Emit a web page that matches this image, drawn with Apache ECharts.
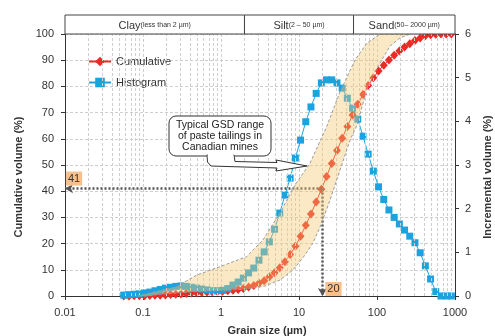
<!DOCTYPE html>
<html><head><meta charset="utf-8">
<script src="https://cdn.jsdelivr.net/npm/echarts@6/dist/echarts.min.js"></script>
<style>html,body{margin:0;padding:0;background:#fff}#c{width:495px;height:336px}</style>
</head><body><div id="c"></div>
<script>
// Grain size bins (µm)
const sizes = [0.0566,0.0661,0.0770,0.0898,0.1047,0.1221,0.1423,0.1660,0.1935,0.2256,0.2630,0.3067,0.3576,0.4169,0.4860,0.5667,0.6607,0.7703,0.8981,1.047,1.221,1.423,1.660,1.935,2.256,2.630,3.067,3.576,4.169,4.860,5.667,6.607,7.703,8.981,10.47,12.21,14.23,16.60,19.35,22.56,26.30,30.67,35.76,41.69,48.60,56.67,66.07,77.03,89.81,104.7,122.1,142.3,166.0,193.5,225.6,263.0,306.7,357.6,416.9,486.0,566.7,660.7,770.3,898.1];
// Cumulative volume (%)
const cumulative = [0,0.02,0.05,0.08,0.12,0.17,0.24,0.32,0.42,0.53,0.66,0.8,0.95,1.1,1.24,1.37,1.49,1.6,1.71,1.83,1.98,2.2,2.5,2.9,3.4,4.05,4.85,5.85,7.3,8.9,10.8,13.1,15.8,19.0,22.8,27.0,31.3,35.9,40.7,45.6,50.6,55.5,60.2,64.7,69.1,73.2,76.9,80.3,83.3,85.9,88.1,90.1,91.9,93.5,95.0,96.3,97.5,98.5,99.3,99.7,99.9,100,100,100];
// Incremental volume (%)
const histogram = [0.02,0.03,0.04,0.05,0.07,0.09,0.12,0.15,0.18,0.2,0.22,0.23,0.22,0.2,0.18,0.16,0.14,0.12,0.12,0.13,0.17,0.25,0.32,0.41,0.53,0.64,0.82,1.01,1.24,1.53,1.90,2.31,2.70,3.16,3.57,3.99,4.33,4.64,4.88,4.95,4.95,4.88,4.76,4.53,4.30,4.05,3.66,3.25,2.86,2.50,2.21,1.97,1.80,1.65,1.51,1.37,1.22,0.99,0.69,0.39,0.10,0,0,0];
// Typical GSD range band: fine boundary and coarse boundary
const bandFineX = [0.085,0.27,0.49,0.97,2.13,3.45,5.7,8.9,13.8,22.6,33.6,52.3,73.8,109];
const bandFineY = [0,3.6,8.0,11.2,15.0,21.4,31.7,42.4,50.6,64.6,78.0,90.1,96.4,100];
const bandCoarseX = [0.11,0.2,0.5,1.0,2.03,3.66,5.70,8.37,11.9,15.1,19.1,25.0,33.6,45.1,55.4,73.8,94.2,119,147,197,265];
const bandCoarseY = [0,0.9,1.7,2.1,2.6,3.8,6.1,9.9,15.6,20.2,27.1,36.6,48.1,59.5,65.3,78.6,85.5,90.8,95.4,98.5,100];
// Annotation values
const markSize = 20, markCum = 41;
// Axis ticks
const xTicks = ['0.01','0.1','1','10','100','1000'];
const classes = [
  {name:'Clay', note:'(less than 2 µm)', from:0.01, to:2},
  {name:'Silt', note:'(2 – 50 µm)', from:2, to:50},
  {name:'Sand', note:'(50– 2000 µm)', from:50, to:1000}
];
const calloutLines = ['Typical GSD range','of paste tailings in','Canadian mines'];

const FONT = 'Liberation Sans, Arial, sans-serif';
const RED = '#ec2a26', BLUE = '#1ba3df';
const minorGrid = [];
for (let d = 0.01; d < 1000; d *= 10) for (let m = 2; m <= 9; m++) minorGrid.push(+(d*m).toPrecision(3));

const bandPoly = bandFineX.map((x,i)=>[x,bandFineY[i]])
  .concat(bandCoarseX.map((x,i)=>[x,bandCoarseY[i]]).reverse());

const chart = echarts.init(document.getElementById('c'), null, {renderer:'canvas'});
const option = {
  animation:false,
  textStyle:{fontFamily:FONT},
  grid:{left:65,right:40,top:34,bottom:40,outerBoundsMode:'none',containLabel:false},
  legend:{
    orient:'vertical', left:83, top:51, itemWidth:22, itemHeight:12, itemGap:10,
    textStyle:{fontSize:11,color:'#333',fontFamily:FONT},
    data:['Cumulative','Histogram']
  },
  xAxis:{
    type:'log', logBase:10, min:0.01, max:1000,
    name:'Grain size (µm)', nameLocation:'middle', nameGap:29,
    nameTextStyle:{fontSize:11,fontWeight:'bold',color:'#333',fontFamily:FONT,padding:[0,0,0,14]},
    axisLine:{show:true,lineStyle:{color:'#333',width:1}},
    axisTick:{show:true,length:4,lineStyle:{color:'#333'}},
    axisLabel:{fontSize:11,color:'#333',margin:11,formatter:v=>{const s=xTicks.find(t=>Math.abs(+t-v)/v<1e-6);return s||'';}},
    splitLine:{show:true,lineStyle:{color:'#cfcfcf',type:[3,2]}}
  },
  yAxis:[
    {type:'value',min:0,max:100,interval:10,position:'left',
     name:'Cumulative volume (%)',nameLocation:'middle',nameGap:37,
     nameTextStyle:{fontSize:11,fontWeight:'bold',color:'#333',fontFamily:FONT,padding:[0,24,0,0]},
     axisLine:{show:true,lineStyle:{color:'#333'}},
     axisTick:{show:true,length:4,lineStyle:{color:'#333'}},
     axisLabel:{fontSize:11,color:'#333',margin:11},
     splitLine:{show:true,lineStyle:{color:'#cfcfcf',type:[3,2]}}},
    {type:'value',min:0,max:6,interval:1,position:'right',
     name:'Incremental volume (%)',nameLocation:'middle',nameGap:27,
     nameTextStyle:{fontSize:11,fontWeight:'bold',color:'#333',fontFamily:FONT,padding:[0,24,0,0]},
     axisLine:{show:true,lineStyle:{color:'#333'}},
     axisTick:{show:true,length:4,lineStyle:{color:'#333'}},
     axisLabel:{fontSize:11,color:'#333',margin:10},
     splitLine:{show:false}}
  ],
  series:[
    {type:'line',name:'grid',data:[],z:0,silent:true,
     markLine:{silent:true,symbol:'none',label:{show:false},
       lineStyle:{color:'#cfcfcf',type:[3,2],width:1},
       data:minorGrid.map(v=>({xAxis:v}))}},
    {type:'line',name:'Cumulative',yAxisIndex:0,z:3,
     data:sizes.map((s,i)=>[s,cumulative[i]]),
     symbol:'diamond',symbolSize:[8,9],showSymbol:true,
     lineStyle:{color:RED,width:1},itemStyle:{color:RED}},
    {type:'line',name:'Histogram',yAxisIndex:1,z:3,
     data:sizes.map((s,i)=>[s,histogram[i]]),
     symbol:'rect',symbolSize:7,showSymbol:true,
     lineStyle:{color:BLUE,width:1},itemStyle:{color:BLUE}},
    {type:'custom',name:'band',z:5,silent:true,data:[[1,50]],
     renderItem:(params,api)=>({
       type:'polygon',
       shape:{points:bandPoly.map(p=>api.coord(p))},
       style:{fill:'rgba(245,200,110,0.4)',stroke:'#9a9a9a',lineWidth:1,lineDash:[3,2]}
     })},
    {type:'line',name:'marks',data:[],z:6,silent:true,
     markLine:{silent:true,symbol:['none','arrow'],symbolSize:[7,8],
       label:{show:false},
       lineStyle:{color:'#555',type:[2,2],width:2.5},
       data:[
         [{coord:[markSize,markCum]},{coord:[0.01,markCum]}],
         [{coord:[markSize,markCum]},{coord:[markSize,0]}]
       ]},
     markPoint:{silent:true,symbol:'rect',symbolSize:0,
       data:[
         {coord:[0.01,markCum],label:{show:true,formatter:String(markCum),position:'inside',offset:[9,-10],
           fontSize:11,color:'#333',backgroundColor:'#f8c08c',padding:[2,2,1,2]}},
         {coord:[markSize,0],label:{show:true,formatter:String(markSize),position:'inside',offset:[11,-7],
           fontSize:11,color:'#333',backgroundColor:'#f8c08c',padding:[2,2,1,2]}}
       ]}}
  ]
};
chart.setOption(option);

// Header (soil classes) and callout
const toPx = v => chart.convertToPixel({xAxisIndex:0}, v);
const plotTop = 34, headTop = 15;
const graphics = [];
classes.forEach(c=>{
  const x0 = toPx(c.from), x1 = toPx(c.to);
  graphics.push({type:'rect',shape:{x:x0,y:headTop,width:x1-x0,height:plotTop-headTop},
    style:{fill:'#fff',stroke:'#444',lineWidth:1},z:10});
  graphics.push({type:'text',x:(x0+x1)/2,y:(headTop+plotTop)/2+1,z:11,
    style:{text:'{a|'+c.name+'}{b|'+c.note+'}',align:'center',verticalAlign:'middle',
      rich:{a:{fontSize:11,fill:'#333',fontFamily:FONT},b:{fontSize:7,fill:'#333',fontFamily:FONT}}}});
});
// callout box
graphics.push({type:'rect',z:12,shape:{x:169,y:116,width:102,height:40,r:7},
  style:{fill:'#fff',stroke:'#333',lineWidth:1}});
// callout pointer
graphics.push({type:'polygon',z:13,
  shape:{points:[[207,155],[207.5,162],[211,166],[277,168],[276,171],[307,166],[276,160],[277,162.5],[235,161.5],[234,155]]},
  style:{fill:'#fff',stroke:'#333',lineWidth:1}});
graphics.push({type:'rect',z:14,shape:{x:207.8,y:154,width:25.6,height:3},style:{fill:'#fff'}});
calloutLines.forEach((t,i)=>{
  graphics.push({type:'text',z:15,x:220,y:125.5+i*11,
    style:{text:t,align:'center',verticalAlign:'middle',fontSize:10.5,fill:'#222',fontFamily:FONT}});
});
chart.setOption({graphic:graphics});
</script>
</body></html>
